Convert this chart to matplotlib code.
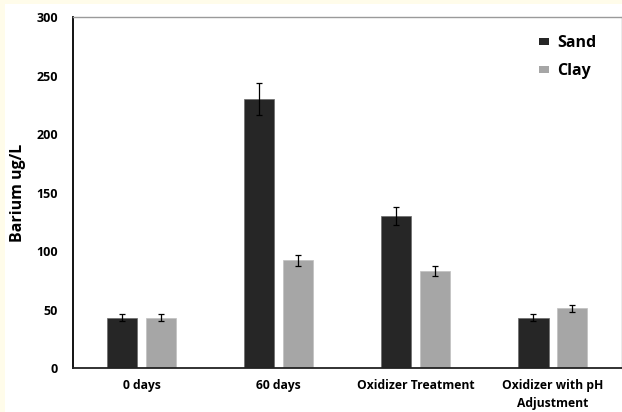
import matplotlib.pyplot as plt
import matplotlib.patches as mpatches
import numpy as np

plt.rcParams['font.family'] = ['Open Sans', 'DejaVu Sans']
plt.rcParams['font.weight'] = 'bold'

categories = ['0 days', '60 days', 'Oxidizer Treatment', 'Oxidizer with pH\nAdjustment']
sand = [43, 230, 130, 43]
clay = [43, 92, 83, 51]
sand_err = [3, 13.5, 8, 3]
clay_err = [3, 5, 4.5, 3]

fig = plt.figure(figsize=(6.22, 4.12), dpi=100)
fig.patch.set_facecolor('#fffcea')
# white panel behind the chart
fig.patches.append(mpatches.Rectangle((5/622, 0), 1, 1 - 4/412, transform=fig.transFigure,
                                      facecolor='white', edgecolor='none', zorder=-10))

ax = fig.add_axes([73/622, 1 - 368/412, 548.5/622, (368 - 17.3)/412])
ax.set_facecolor('white')

x = np.arange(len(categories))
w = 0.22
off = 0.142
ax.bar(x - off, sand, w, color='#262626', label='Sand', edgecolor='#6a6a6a', linewidth=0.5,
       yerr=sand_err, error_kw=dict(ecolor='black', elinewidth=0.9, capsize=2, capthick=0.9))
ax.bar(x + off, clay, w, color='#a6a6a6', label='Clay', edgecolor='#c0c0c0', linewidth=0.5,
       yerr=clay_err, error_kw=dict(ecolor='black', elinewidth=0.9, capsize=2, capthick=0.9))

ax.set_xlim(-0.5, 3.5)
ax.set_ylim(0, 300)
ax.set_yticks(range(0, 301, 50))
ax.set_xticks(x)
ax.set_xticklabels(categories, fontsize=8.7, fontweight='bold', linespacing=1.5)
ax.tick_params(axis='y', length=0, pad=11, labelsize=9)
ax.tick_params(axis='x', length=0, pad=8)
for t in ax.get_yticklabels():
    t.set_fontweight('bold')

ax.spines['left'].set_color('black')
ax.spines['left'].set_linewidth(1.3)
ax.spines['bottom'].set_color('#222222')
ax.spines['bottom'].set_linewidth(1.3)
ax.spines['top'].set_color('#9a9a9a')
ax.spines['top'].set_linewidth(1.0)
ax.spines['right'].set_color('#9a9a9a')
ax.spines['right'].set_linewidth(1.0)

ax.set_ylabel('Barium ug/L', fontsize=11.5, fontweight='bold', labelpad=7)

leg = ax.legend(loc='upper right', frameon=False, fontsize=11.5, handlelength=0.6, handleheight=0.3,
                handletextpad=0.5, labelspacing=0.75, bbox_to_anchor=(0.98, 0.99))
for h in leg.legend_handles:
    h.set_linewidth(0)

fig.savefig('out.png', dpi=100, facecolor=fig.get_facecolor())
